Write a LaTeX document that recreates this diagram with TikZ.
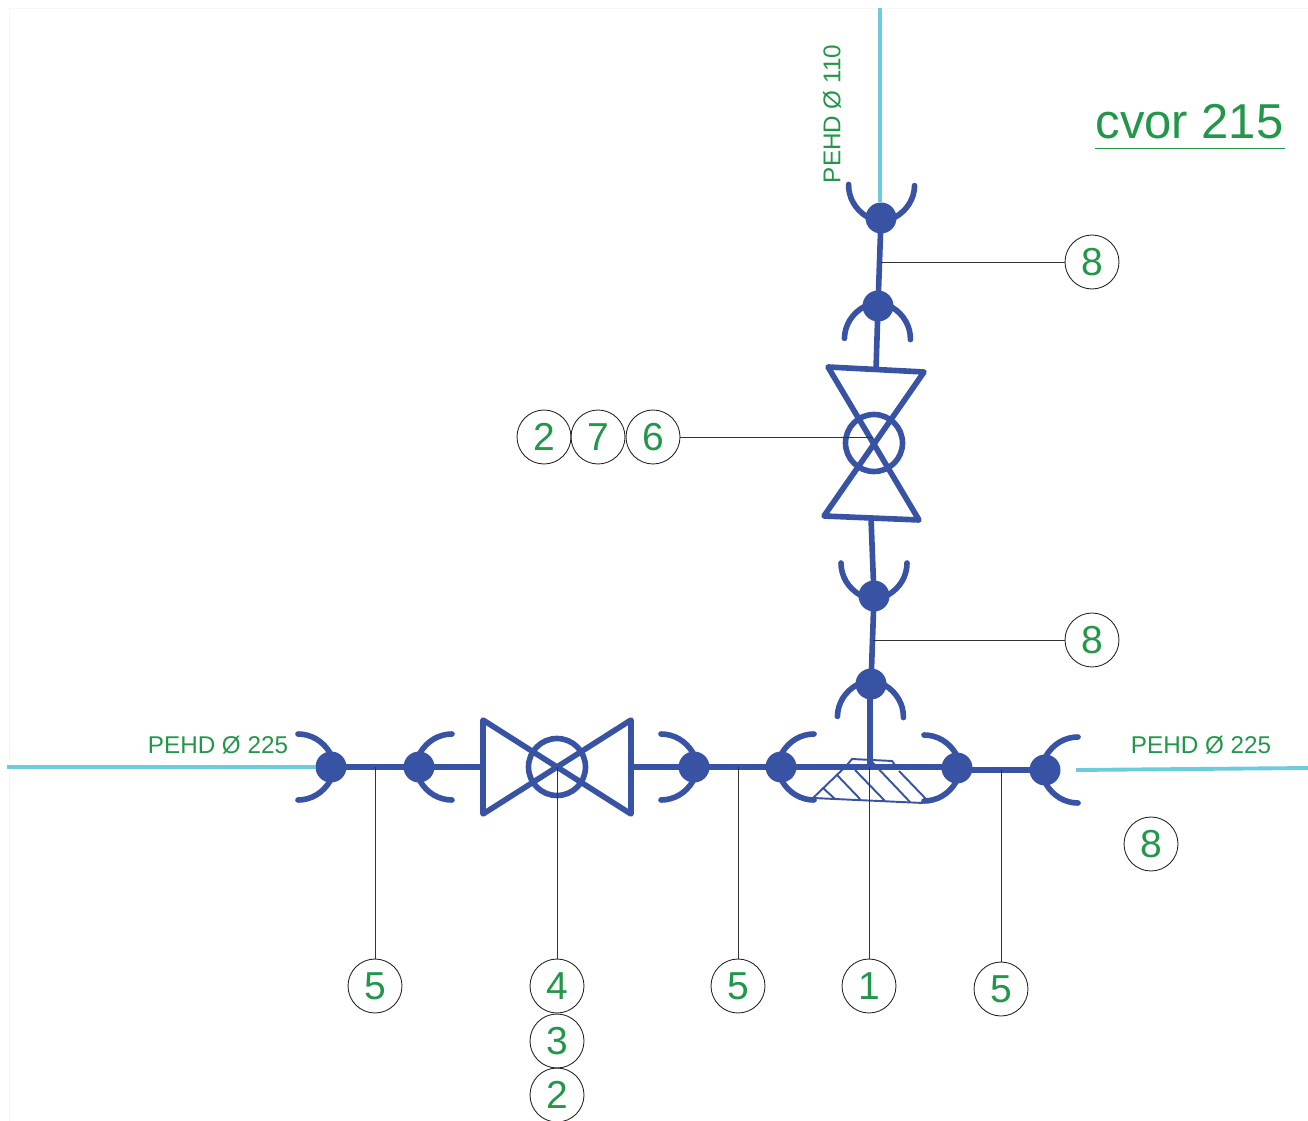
\documentclass[tikz,border=0pt]{standalone}
\usepackage{fontspec}
\setmainfont{Liberation Sans}
\definecolor{pipeblue}{HTML}{3953A4}
\definecolor{pipecyan}{HTML}{6CCBDC}
\definecolor{labelgreen}{HTML}{22974A}
\tikzset{
  pipe/.style={pipeblue,line width=3.2pt,shorten >=-1pt,shorten <=-1pt},
  inflow/.style={pipecyan,line width=2.2pt},
  body/.style={pipeblue,line width=3.2pt,line join=round,line cap=round},
  hatch/.style={pipeblue,line width=1.1pt},
  leader/.style={black!80,line width=.45pt},
  joint/.style={circle,fill=pipeblue,minimum size=.62cm,inner sep=0pt,outer sep=0pt},
  wheel/.style={circle,draw=pipeblue,line width=3.2pt,fill=none,minimum size=1.14cm,inner sep=0pt},
  callout/.style={circle,draw=black!85,line width=.5pt,minimum size=1.08cm,inner sep=0pt,outer sep=0pt,text=labelgreen,font=\fontsize{22.2}{24}\selectfont},
  pipelabel/.style={text=labelgreen,inner sep=0pt,font=\fontsize{13.8}{15}\selectfont},
  socket/.pic={
    \draw[body] (1,-14) .. controls (8,-26) and (20,-33) .. (33,-33);
    \draw[body] (1,14) .. controls (8,26) and (20,33) .. (33,33);
  }
}
\begin{document}
\begin{tikzpicture}[x=.02cm,y=-.02cm]
  \useasboundingbox (0,0) rectangle (1308,1121);
  % faint sheet edge
  \draw[black!4,line width=.4pt] (9,1121) -- (9,8) -- (1308,8);

  % cyan incoming pipes
  \coordinate (inl) at (7,767);
  \coordinate (inr) at (1076,770);
  \coordinate (inrb) at (1308,768);
  \coordinate (intop) at (880,8);

  % joints along the main line
  \node[joint] (j1) at (331,767) {};
  \node[joint] (j2) at (419,767) {};
  \node[joint] (j3) at (694,767) {};
  \node[joint] (j4) at (781,767) {};
  \node[joint] (j5) at (957,768) {};
  \node[joint] (j6) at (1045,770) {};
  % joints along the branch
  \node[joint] (j7) at (871,684) {};
  \node[joint] (j8) at (874,596) {};
  \node[joint] (j9) at (878,306) {};
  \node[joint] (j10) at (881,218) {};

  \draw[inflow] (inl) -- (j1);
  \draw[inflow] (inr) -- (inrb);
  \draw[inflow] (intop) -- (intop |- j10.north);

  % sockets
  \pic[rotate=180] at (j1) {socket};
  \pic at (j2) {socket};
  \pic[rotate=180] at (j3) {socket};
  \pic at (j4) {socket};
  \pic[rotate=180] at (j5) {socket};
  \pic at (j6) {socket};
  \pic[rotate=-91] at (j7) {socket};
  \pic[rotate=90] at (j8) {socket};
  \pic[rotate=-91] at (j9) {socket};
  \pic[rotate=89] at (j10) {socket};

  % horizontal valve
  \node[wheel] (vh) at (557,767) {};
  \draw[body] (483,720) -- (631,814) -- (631,720) -- (483,814) -- cycle;
  \coordinate (vhl) at (483,767);
  \coordinate (vhr) at (631,767);

  % vertical valve
  \node[wheel] (vv) at (874,443) {};
  \draw[body] (828,367) -- (919,520) -- (824,516) -- (924,372) -- cycle;
  \coordinate (vvt) at (876,370);
  \coordinate (vvb) at (871,518);

  % tee fitting
  \coordinate (tee) at (870,767);
  \draw[hatch] (847,765) -- (852,759) -- (892,761) -- (895,765);
  \draw[hatch] (843,769) -- (813,798) -- (923,803);
  \draw[hatch] (823,788) -- (835,799);
  \draw[hatch] (837,775) -- (860,799);
  \draw[hatch] (855,770) -- (885,801);
  \draw[hatch] (872,762) -- (910,802);
  \draw[hatch] (899,771) -- (927,800);

  % blue pipes
  \draw[pipe] (j1) -- (j2);
  \draw[pipe] (j2) -- (vhl);
  \draw[pipe] (vhr) -- (j3);
  \draw[pipe] (j3) -- (j4);
  \draw[pipe] (j4) -- (j4 -| j5);
  \draw[pipe] (j5 |- j6) -- (j6);
  \draw[pipe] (tee) -- (tee |- j7);
  \draw[pipe] (j7) -- (j8);
  \draw[pipe] (j8) -- (vvb);
  \draw[pipe] (vvt) -- (j9);
  \draw[pipe] (j9) -- (j10);

  % numbered callouts
  \node[callout] (n8a) at (1092,262) {8};
  \node[callout] (n8b) at (1092,640) {8};
  \node[callout] (n8c) at (1151,844) {8};
  \node[callout] (n2a) at (544,437) {2};
  \node[callout] (n7) at (598,437) {7};
  \node[callout] (n6) at (653,437) {6};
  \node[callout] (n5a) at (375,986) {5};
  \node[callout] (n4) at (557,986) {4};
  \node[callout] (n3) at (557,1041) {3};
  \node[callout] (n2b) at (557,1095) {2};
  \node[callout] (n5b) at (738,986) {5};
  \node[callout] (n1) at (869,986) {1};
  \node[callout] (n5c) at (1001,989) {5};

  % leaders
  \coordinate (t8a) at (881,262);
  \coordinate (t8b) at (873,640);
  \coordinate (t6) at (873,437);
  \coordinate (t5a) at (375,767);
  \coordinate (t5b) at (738,767);
  \coordinate (t5c) at (1001,770);
  \coordinate (t1) at (869,767);
  \draw[leader] (t8a) -- (n8a);
  \draw[leader] (t8b) -- (n8b);
  \draw[leader] (t6) -- (n6);
  \draw[leader] (t5a) -- (n5a);
  \draw[leader] (vh.center) -- (n4);
  \draw[leader] (t5b) -- (n5b);
  \draw[leader] (t1) -- (n1);
  \draw[leader] (t5c) -- (n5c);

  % pipe labels and title
  \node[pipelabel] (plh) at (218,745) {PEHD Ø 225};
  \node[pipelabel] (prh) at (1201,745) {PEHD Ø 225};
  \node[pipelabel,rotate=90] (pth) at (832,114) {PEHD Ø 110};
  \node[text=labelgreen,inner sep=0pt,font=\fontsize{27.9}{30}\selectfont] (title) at (1189.5,121.5) {cvor 215};
  \coordinate (ula) at (1095,148);
  \coordinate (ulb) at (1285,148);
  \draw[labelgreen,line width=.5pt] (ula) -- (ulb);
\end{tikzpicture}
\end{document}
